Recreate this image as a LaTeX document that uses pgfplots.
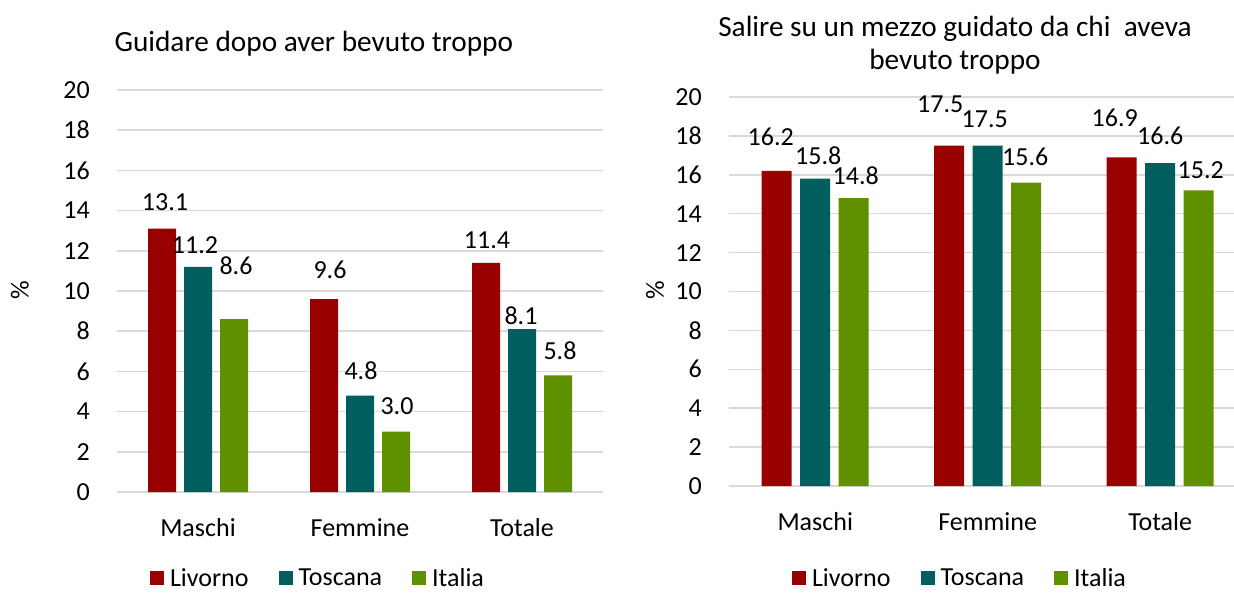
\documentclass[border=0pt]{standalone}
\usepackage{pgfplots}
\pgfplotsset{compat=1.18}
\usepackage{pgfplotstable}
\usepackage{fontspec}
\setmainfont{Carlito}
\definecolor{cLiv}{HTML}{990000}
\definecolor{cTos}{HTML}{005E5E}
\definecolor{cIta}{HTML}{5E9000}
\definecolor{cGrid}{HTML}{D9D9D9}

\pgfplotstableread{
x liv livdx livdy tos tosdx tosdy ita itadx itady
0 13.1 3 27 11.2 -3 22 8.6 2 53
1 9.6 6 29 4.8 1 25 3.0 1 26
2 11.4 1 23 8.1 -1 13 5.8 2 25
}\dataA
\pgfplotstableread{
x liv livdx livdy tos tosdx tosdy ita itadx itady
0 16.2 -6 34 15.8 3 23 14.8 2 22
1 17.5 -9 41 17.5 -3 26 15.6 -1 26
2 16.9 -7 39 16.6 0 27 15.2 2 20
}\dataB

\pgfplotsset{
  common/.style={
    scale only axis,
    anchor=south west,
    enlargelimits=false,
    clip=false,
    ymin=0, ymax=20, ytick={0,2,...,20},
    xtick={0,1,2}, xticklabels={Maschi,Femmine,Totale},
    axis line style={draw=none},
    tick style={draw=none},
    ymajorgrids, major grid style={cGrid, line width=1.5pt},
    font=\fontsize{26}{31}\selectfont,
    /pgf/number format/assume math mode=true,
    yticklabel style={anchor=east, inner sep=0pt, xshift=-27pt},
    xticklabel style={anchor=base, inner sep=0pt, yshift=-40pt},
    ylabel={\%},
    nodes near coords={\pgfmathprintnumber[fixed,fixed zerofill,precision=1,assume math mode=true]{\pgfplotspointmeta}},
    nodes near coords style={anchor=center, inner sep=0pt, xshift=\dx pt, yshift=\dy pt, black},
    title style={anchor=center, yshift=-6pt, font=\fontsize{29.3}{33}\selectfont, align=center},
    legend columns=-1,
    legend style={draw=none, fill=none, inner sep=0pt, anchor=center,
      nodes={inner sep=0pt},
      /tikz/every odd column/.append style={column sep=6pt},
      /tikz/every even column/.append style={column sep=30pt}},
  },
  sqlegend/.style={
    legend image code/.code={\fill[##1] (0pt,-7pt) rectangle (14pt,7pt);},
  },
}

\begin{document}
\begin{tikzpicture}
\path[use as bounding box] (0pt,0pt) rectangle (1234pt,592pt);

\begin{axis}[common,
  at={(117pt,100pt)}, width=486pt, height=402pt,
  xmin=-0.5, xmax=2.5,
  ybar=8pt, bar width=28pt, sqlegend,
  title={Guidare dopo aver bevuto troppo},
  title style={at={(axis description cs:0.405,1.114)}},
  ylabel style={at={(axis description cs:-0.2,0.5025)}, anchor=center},
  legend style={at={(axis description cs:0.4115,-0.2139)}},
]
\addplot[fill=cLiv, draw=none, visualization depends on={\thisrow{livdx}\as\dx}, visualization depends on={\thisrow{livdy}\as\dy}] table[x=x,y=liv] {\dataA};
\addplot[fill=cTos, draw=none, visualization depends on={\thisrow{tosdx}\as\dx}, visualization depends on={\thisrow{tosdy}\as\dy}] table[x=x,y=tos] {\dataA};
\addplot[fill=cIta, draw=none, visualization depends on={\thisrow{itadx}\as\dx}, visualization depends on={\thisrow{itady}\as\dy}] table[x=x,y=ita] {\dataA};
\legend{Livorno,Toscana,Italia}
\end{axis}

\begin{axis}[common,
  at={(729pt,106pt)}, width=505pt, height=389pt,
  xmin=-0.5, xmax=2.428,
  ybar=8.5pt, bar width=30pt, sqlegend,
  title={Salire su un mezzo guidato da chi \ aveva\\bevuto troppo},
  title style={at={(axis description cs:0.4475,1.132)}},
  ylabel style={at={(axis description cs:-0.1465,0.504)}, anchor=center},
  legend style={at={(axis description cs:0.4554,-0.2365)}},
]
\addplot[fill=cLiv, draw=none, visualization depends on={\thisrow{livdx}\as\dx}, visualization depends on={\thisrow{livdy}\as\dy}] table[x=x,y=liv] {\dataB};
\addplot[fill=cTos, draw=none, visualization depends on={\thisrow{tosdx}\as\dx}, visualization depends on={\thisrow{tosdy}\as\dy}] table[x=x,y=tos] {\dataB};
\addplot[fill=cIta, draw=none, visualization depends on={\thisrow{itadx}\as\dx}, visualization depends on={\thisrow{itady}\as\dy}] table[x=x,y=ita] {\dataB};
\legend{Livorno,Toscana,Italia}
\end{axis}
\end{tikzpicture}
\end{document}
